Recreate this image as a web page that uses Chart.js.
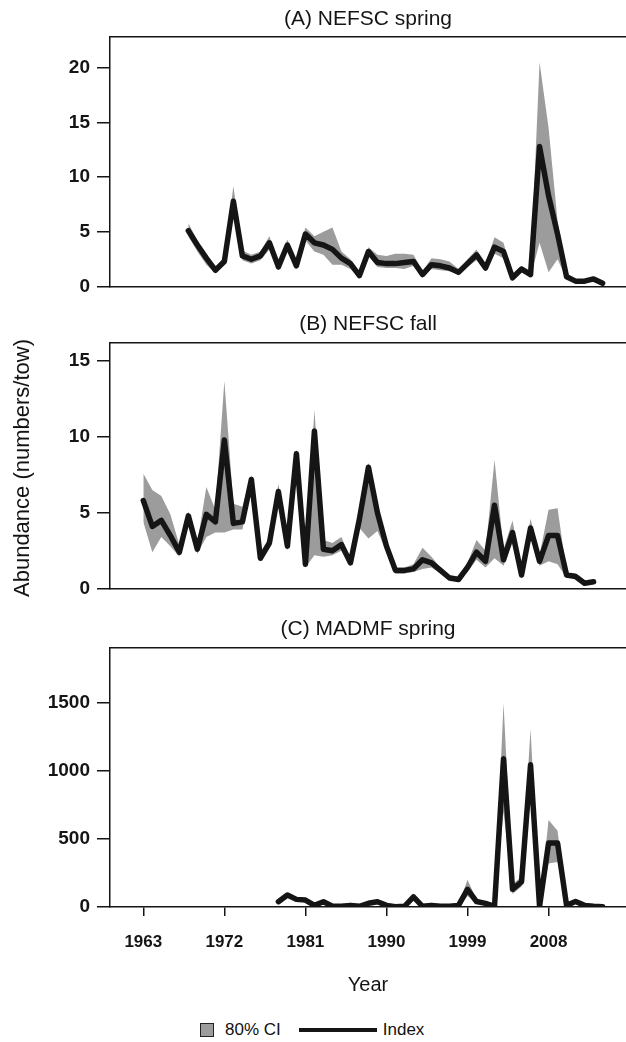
<!DOCTYPE html>
<html>
<head>
<meta charset="utf-8">
<script src="https://cdn.jsdelivr.net/npm/chart.js@4.4.1/dist/chart.umd.min.js"></script>
<style>
  body { margin: 0; background: #fff; width: 626px; height: 1042px; position: relative; overflow: hidden;
         font-family: "Liberation Sans", Arial, sans-serif; color: #111; }
  .panel { position: absolute; left: 0; width: 626px; }
  #ytitle { position: absolute; left: 22px; top: 468px; transform: translate(-50%, -50%) rotate(-90deg);
            white-space: nowrap; font-size: 22px; }
  #legend { position: absolute; top: 1019px; left: 200px; height: 22px; display: flex; align-items: center;
            font-size: 17px; white-space: nowrap; }
  #legend .box { width: 12px; height: 12px; background: #9c9c9c; border: 1.5px solid #222; margin-right: 11px; }
  #legend .line { width: 78px; height: 4px; background: #151515; margin: 0 6px 0 18px; }
</style>
</head>
<body>
<div class="panel" style="top:0"><canvas id="chartA" width="626" height="305"></canvas></div>
<div class="panel" style="top:305px"><canvas id="chartB" width="626" height="302"></canvas></div>
<div class="panel" style="top:607px"><canvas id="chartC" width="626" height="396"></canvas></div>
<div id="ytitle">Abundance (numbers/tow)</div>
<div id="legend"><span class="box"></span><span>80% CI</span><span class="line"></span><span>Index</span></div>

<script>
// Ejes compartidos
const yearTicks = [1963, 1972, 1981, 1990, 1999, 2008];
const X_MIN = 1959.3;
const X_MAX = 2016.6;

// (A) NEFSC spring, 1968-2014
const yearsA = [1968, 1969, 1970, 1971, 1972, 1973, 1974, 1975, 1976, 1977, 1978, 1979, 1980, 1981, 1982, 1983,
  1984, 1985, 1986, 1987, 1988, 1989, 1990, 1991, 1992, 1993, 1994, 1995, 1996, 1997, 1998, 1999, 2000, 2001,
  2002, 2003, 2004, 2005, 2006, 2007, 2008, 2009, 2010, 2011, 2012, 2013, 2014];
const indexA = [5.1, 3.8, 2.6, 1.5, 2.3, 7.8, 2.8, 2.5, 2.8, 4.0, 1.8, 3.8, 1.9, 4.8, 4.0, 3.8,
  3.4, 2.6, 2.1, 1.0, 3.2, 2.2, 2.1, 2.1, 2.2, 2.3, 1.1, 2.0, 1.9, 1.7, 1.3, 2.1, 2.9, 1.7,
  3.6, 3.2, 0.8, 1.6, 1.1, 12.8, 8.3, 4.8, 0.9, 0.5, 0.5, 0.7, 0.3];
const lowA = [4.6, 3.2, 2.0, 1.2, 2.0, 6.6, 2.4, 2.1, 2.4, 3.4, 1.5, 3.2, 1.6, 4.2, 3.2, 2.9,
  2.0, 2.0, 1.6, 0.8, 2.8, 1.8, 1.7, 1.7, 1.6, 1.9, 0.9, 1.6, 1.5, 1.4, 1.1, 1.8, 2.4, 1.4,
  3.0, 2.6, 0.6, 1.3, 0.9, 4.0, 1.3, 2.5, 0.7, 0.4, 0.4, 0.5, 0.2];
const highA = [5.8, 4.2, 3.0, 1.8, 2.7, 9.2, 3.3, 2.9, 3.2, 4.6, 2.1, 4.3, 2.2, 5.4, 4.6, 5.0,
  5.4, 3.2, 2.5, 1.3, 3.6, 2.9, 2.8, 3.0, 3.0, 2.9, 1.4, 2.6, 2.5, 2.3, 1.6, 2.5, 3.4, 2.1,
  4.5, 4.0, 1.0, 1.9, 1.4, 20.5, 14.5, 6.0, 1.2, 0.7, 0.7, 0.9, 0.4];
const yTicksA = [0, 5, 10, 15, 20];

// (B) NEFSC fall, 1963-2013
const yearsB = [1963, 1964, 1965, 1966, 1967, 1968, 1969, 1970, 1971, 1972, 1973, 1974, 1975, 1976, 1977, 1978,
  1979, 1980, 1981, 1982, 1983, 1984, 1985, 1986, 1987, 1988, 1989, 1990, 1991, 1992, 1993, 1994, 1995, 1996,
  1997, 1998, 1999, 2000, 2001, 2002, 2003, 2004, 2005, 2006, 2007, 2008, 2009, 2010, 2011, 2012, 2013];
const indexB = [5.8, 4.1, 4.5, 3.5, 2.4, 4.8, 2.6, 4.9, 4.4, 9.8, 4.3, 4.4, 7.2, 2.0, 3.0, 6.4,
  2.8, 8.9, 1.6, 10.4, 2.6, 2.5, 2.9, 1.7, 4.6, 8.0, 5.0, 2.8, 1.2, 1.2, 1.3, 1.9, 1.7, 1.2,
  0.7, 0.6, 1.4, 2.4, 1.8, 5.5, 1.9, 3.7, 0.9, 4.0, 1.8, 3.5, 3.5, 0.9, 0.8, 0.35, 0.45];
const lowB = [4.4, 2.4, 3.4, 2.8, 2.1, 4.4, 2.3, 3.4, 3.7, 3.7, 3.9, 3.9, 6.6, 1.8, 2.7, 5.8,
  2.5, 7.8, 1.4, 2.2, 2.1, 2.2, 2.5, 1.5, 4.0, 3.3, 3.8, 2.4, 1.0, 1.0, 1.1, 1.3, 1.4, 1.0,
  0.6, 0.5, 1.1, 1.9, 1.4, 2.0, 1.5, 3.0, 0.7, 3.3, 1.5, 1.8, 1.6, 0.7, 0.7, 0.3, 0.4];
const highB = [7.6, 6.5, 6.1, 4.9, 2.9, 5.1, 3.0, 6.7, 5.2, 13.7, 5.6, 5.4, 7.5, 2.4, 3.4, 6.9,
  3.2, 9.2, 2.0, 11.8, 3.2, 3.0, 3.4, 2.0, 5.0, 8.3, 5.5, 3.1, 1.4, 1.4, 1.6, 2.7, 2.1, 1.4,
  0.9, 0.8, 1.7, 3.2, 2.5, 8.5, 2.6, 4.5, 1.2, 4.6, 2.2, 5.2, 5.3, 1.1, 1.0, 0.45, 0.55];
const yTicksB = [0, 5, 10, 15];

// (C) MADMF spring, 1978-2014
const yearsC = [1978, 1979, 1980, 1981, 1982, 1983, 1984, 1985, 1986, 1987, 1988, 1989, 1990, 1991, 1992, 1993,
  1994, 1995, 1996, 1997, 1998, 1999, 2000, 2001, 2002, 2003, 2004, 2005, 2006, 2007, 2008, 2009, 2010, 2011,
  2012, 2013, 2014];
const indexC = [39, 88, 56, 51, 12, 39, 5, 5, 12, 5, 27, 39, 12, 2, 5, 75,
  5, 12, 5, 5, 12, 130, 40, 27, 5, 1090, 130, 185, 1045, 5, 470, 470, 12, 40,
  12, 5, 2];
const lowC = [30, 70, 45, 40, 8, 30, 3, 3, 8, 3, 20, 30, 8, 1, 3, 55,
  3, 8, 3, 3, 8, 80, 30, 20, 3, 700, 95, 150, 800, 3, 320, 330, 8, 30,
  8, 3, 1];
const highC = [50, 105, 68, 62, 18, 50, 8, 8, 18, 8, 35, 50, 18, 4, 8, 100,
  8, 18, 8, 8, 18, 200, 55, 35, 8, 1500, 170, 220, 1310, 8, 640, 560, 18, 55,
  18, 8, 4];
const yTicksC = [0, 500, 1000, 1500];

const INK = '#151515';
const CI_GREY = '#9c9c9c';
const FONT = '"Liberation Sans", Arial, sans-serif';

function toPoints(years, values) {
  return years.map((y, i) => ({ x: y, y: values[i] }));
}

// La línea del índice va encima de la banda (order menor = dibujado arriba)
function buildDatasets(years, low, high, index) {
  return [
    { label: '80% CI', data: toPoints(years, high), borderWidth: 0, pointRadius: 0,
      backgroundColor: CI_GREY, fill: '+1', order: 2 },
    { label: 'CI low', data: toPoints(years, low), borderWidth: 0, pointRadius: 0, fill: false, order: 1 },
    { label: 'Index', data: toPoints(years, index), borderColor: INK, borderWidth: 5.5, pointRadius: 0,
      fill: false, borderJoinStyle: 'round', borderCapStyle: 'round', order: 0 }
  ];
}

// Opciones de cada panel
function panelOptions(title, yMax, yTicks, opts) {
  return {
    responsive: false,
    animation: false,
    layout: { padding: 0 },
    plugins: { legend: { display: false }, tooltip: { enabled: false } },
    scales: {
      x: {
        type: 'linear', position: 'bottom', min: X_MIN, max: X_MAX,
        afterBuildTicks: s => { s.ticks = yearTicks.map(v => ({ value: v })); },
        afterFit: s => { s.height = opts.bottomH; },
        border: { color: INK, width: 1.5 },
        grid: { drawOnChartArea: false, drawTicks: opts.showX, tickLength: 9, color: INK, lineWidth: 1.5 },
        ticks: { display: opts.showX, color: INK, padding: 16, maxRotation: 0,
                 callback: v => String(v),
                 font: { family: FONT, size: 17, weight: 'bold' } },
        title: { display: opts.showX, text: 'Year', color: INK, padding: { top: 0, bottom: 6 },
                 font: { family: FONT, size: 20 } }
      },
      top: {
        type: 'linear', position: 'top', min: X_MIN, max: X_MAX,
        afterFit: s => { s.height = opts.topH; },
        border: { color: INK, width: 1.5 },
        grid: { display: false },
        ticks: { display: false },
        title: { display: true, text: title, color: INK, padding: { top: opts.titlePad, bottom: 0 },
                 font: { family: FONT, size: 21 } }
      },
      y: {
        min: 0, max: yMax,
        afterBuildTicks: s => { s.ticks = yTicks.map(v => ({ value: v })); },
        afterFit: s => { s.width = 110; },
        border: { color: INK, width: 1.5 },
        grid: { drawOnChartArea: false, tickLength: 13, color: INK, lineWidth: 1.5 },
        ticks: { color: INK, padding: 7, callback: v => String(v),
                 font: { family: FONT, size: 19, weight: 'bold' } }
      }
    }
  };
}

new Chart(document.getElementById('chartA'), {
  type: 'line',
  data: { datasets: buildDatasets(yearsA, lowA, highA, indexA) },
  options: panelOptions('(A) NEFSC spring', 22.8, yTicksA, { showX: false, topH: 37, bottomH: 7, titlePad: 7 })
});

new Chart(document.getElementById('chartB'), {
  type: 'line',
  data: { datasets: buildDatasets(yearsB, lowB, highB, indexB) },
  options: panelOptions('(B) NEFSC fall', 16.2, yTicksB, { showX: false, topH: 38, bottomH: 5, titlePad: 7 })
});

new Chart(document.getElementById('chartC'), {
  type: 'line',
  data: { datasets: buildDatasets(yearsC, lowC, highC, indexC) },
  options: panelOptions('(C) MADMF spring', 1904, yTicksC, { showX: true, topH: 41, bottomH: 96, titlePad: 10 })
});
</script>
</body>
</html>
